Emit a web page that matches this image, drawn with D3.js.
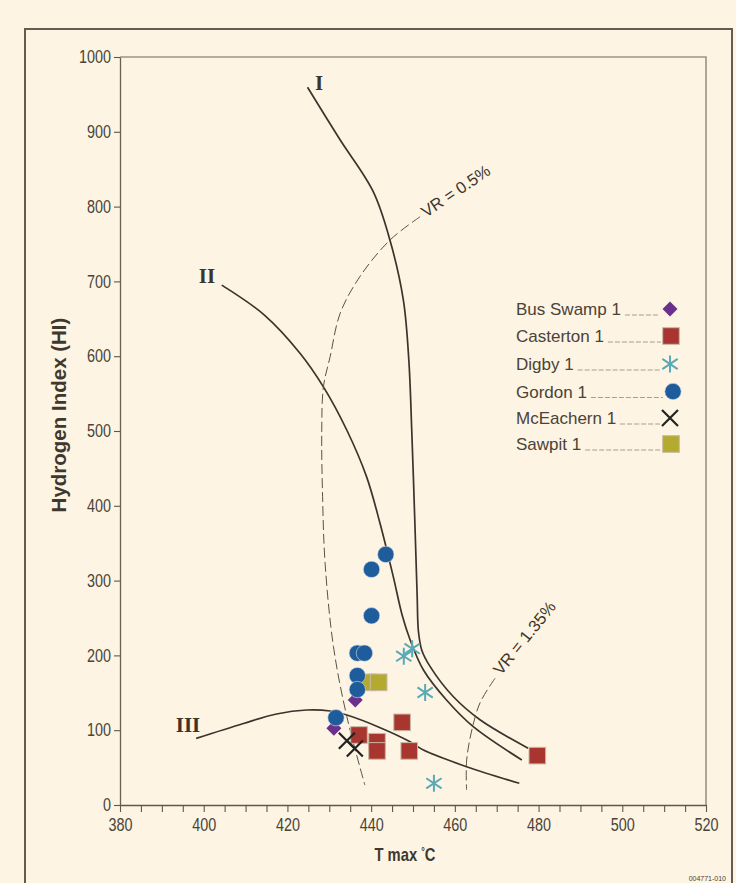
<!DOCTYPE html>
<html>
<head>
<meta charset="utf-8">
<script src="https://cdn.jsdelivr.net/npm/d3@7"></script>
<style>
  html, body { margin: 0; padding: 0; background: #fdf4e3; }
  svg { display: block; }
</style>
</head>
<body>
<svg id="chart" width="736" height="883"></svg>
<script>
// ---------- data ----------
const xTicks = [380, 400, 420, 440, 460, 480, 500, 520];
const yTicks = [0, 100, 200, 300, 400, 500, 600, 700, 800, 900, 1000];

const seriesNames = ["Bus Swamp 1", "Casterton 1", "Digby 1", "Gordon 1", "McEachern 1", "Sawpit 1"];

const busSwamp  = [[436.2, 140.4], [431.1, 102.5]];
const casterton = [[447.4, 110.5], [437.1, 93.6], [441.4, 84.6], [441.4, 72.3], [449.1, 72.3], [479.7, 66.0]];
const digby     = [[447.8, 199.0], [449.8, 209.0], [452.9, 150.4], [455.0, 29.0]];
const gordon    = [[443.5, 335.0], [440.1, 315.0], [440.1, 253.0], [436.7, 203.0], [438.4, 203.0], [436.7, 173.0], [436.7, 154.4], [431.6, 116.7]];
const mcEachern = [[434.2, 86.0], [436.1, 75.6]];
const sawpit    = [[439.3, 164.0], [441.8, 164.0]];

// kerogen type curves
const typeI = [[424.8, 959.5], [432.5, 890], [440.5, 820], [444.5, 755], [447.7, 675], [449.0, 595], [449.7, 501], [450.5, 368], [451.0, 278], [451.3, 232], [452.1, 207], [454.1, 185], [459.6, 145], [466.0, 114], [477.5, 76]];
const typeII = [[404.3, 695], [414.5, 655], [423.0, 604], [428.6, 559], [434.2, 501], [438.9, 439], [442.1, 377], [445.3, 305], [447.4, 254], [449.3, 221], [452.5, 180.5], [458.0, 140.4], [464.4, 104.7], [476.0, 60.2]];
const typeIII = [[398.2, 89], [409.5, 109], [417.4, 121.7], [424.6, 127], [430.2, 125.7], [434.2, 120.3], [441.6, 104.7], [449.3, 84.6], [452.5, 73.5], [462.8, 51.2], [475.4, 29]];

// vitrinite reflectance iso-lines
const vr05 = [[451.7, 786.5], [444.5, 755.3], [437.3, 706.3], [432.6, 657.4], [430.2, 599.3], [428.6, 559.2], [428.2, 501.3], [428.4, 412.2], [429.0, 323.1], [431.0, 211.6], [434.2, 118], [438.5, 26.7]];
const vr135 = [[469.6, 169.4], [466.0, 136.4], [463.9, 96.3], [462.8, 58.8], [462.8, 20.1]];

// ---------- drawing ----------
const svg = d3.select("#chart");
const W = 736, H = 883;
const x = d3.scaleLinear().domain([380, 520]).range([120, 706]);
const y = d3.scaleLinear().domain([0, 1000]).range([805, 57]);

const textCol = "#4a4338";
const sans = "'Liberation Sans', Arial, Helvetica, sans-serif";
const squeeze = 0.8;

svg.append("rect").attr("width", W).attr("height", H).attr("fill", "#fdf4e3");

// outer frame
svg.append("path")
  .attr("d", `M25,${H + 5} L25,29 L732,29 L732,${H + 5}`)
  .attr("fill", "none").attr("stroke", "#655c51").attr("stroke-width", 2);

// plot frame (top and right)
svg.append("path")
  .attr("d", `M${x(380)},${y(1000)} L${x(520)},${y(1000)} L${x(520)},${y(0)}`)
  .attr("fill", "none").attr("stroke", "#9e937f").attr("stroke-width", 1.6);

// axes
const xAxis = d3.axisBottom(x)
  .tickValues(d3.range(380, 521, 5))
  .tickSize(7).tickSizeOuter(0)
  .tickFormat(d => xTicks.includes(d) ? d3.format("d")(d) : "");
const gx = svg.append("g").attr("transform", `translate(0,${y(0)})`).call(xAxis);
gx.select(".domain").attr("stroke", "#5f574c").attr("stroke-width", 1.3);
gx.selectAll(".tick line").attr("stroke", "#5f574c").attr("stroke-width", 1.1);
gx.selectAll(".tick text").attr("font-family", sans).attr("font-size", 18)
  .attr("fill", textCol).attr("y", 13).attr("transform", `scale(${squeeze},1)`);

const yAxis = d3.axisLeft(y).tickValues(yTicks).tickSize(6).tickSizeOuter(0).tickFormat(d3.format("d"));
const gy = svg.append("g").attr("transform", `translate(${x(380)},0)`).call(yAxis);
gy.select(".domain").attr("stroke", "#6a6155").attr("stroke-width", 1.3);
gy.selectAll(".tick line").attr("stroke", "#5f574c").attr("stroke-width", 1.1);
gy.selectAll(".tick text").attr("font-family", sans).attr("font-size", 18)
  .attr("fill", textCol).attr("x", -9 / squeeze).attr("transform", `scale(${squeeze},1)`);

// axis titles
const xt = svg.append("text").attr("transform", `translate(405,861) scale(0.82,1)`)
  .attr("text-anchor", "middle").attr("font-family", sans).attr("font-weight", "bold")
  .attr("font-size", 18).attr("fill", "#3e382f");
xt.append("tspan").text("T max ");
xt.append("tspan").text("°").attr("font-size", 11).attr("dy", -6);
xt.append("tspan").text("C").attr("dy", 6);

svg.append("text")
  .attr("transform", `translate(66,415) rotate(-90)`)
  .attr("text-anchor", "middle").attr("font-family", sans).attr("font-weight", "bold")
  .attr("font-size", 20.5).attr("fill", "#3e382f")
  .text("Hydrogen Index (HI)");

// curves
const lineGen = d3.line().x(d => x(d[0])).y(d => y(d[1])).curve(d3.curveCatmullRom.alpha(0.5));
const curveCol = "#3b342c";
[typeI, typeII, typeIII].forEach(c => {
  svg.append("path").datum(c).attr("d", lineGen)
    .attr("fill", "none").attr("stroke", curveCol).attr("stroke-width", 1.7);
});
[vr05, vr135].forEach(c => {
  svg.append("path").datum(c).attr("d", lineGen)
    .attr("fill", "none").attr("stroke", "#5a5247").attr("stroke-width", 1)
    .attr("stroke-dasharray", "10,4");
});

// curve labels
const serif = "'Liberation Serif', 'Times New Roman', serif";
[["I", 319, 90], ["II", 207, 283], ["III", 188, 732]].forEach(l => {
  svg.append("text").attr("x", l[1]).attr("y", l[2]).attr("text-anchor", "middle")
    .attr("font-family", serif).attr("font-weight", "bold").attr("font-size", 21)
    .attr("fill", "#3b342c").text(l[0]);
});
svg.append("text").attr("transform", `translate(426,218) rotate(-34)`)
  .attr("font-family", sans).attr("font-size", 16.5).attr("fill", "#3b342c").text("VR = 0.5%");
svg.append("text").attr("transform", `translate(501,676) rotate(-51)`)
  .attr("font-family", sans).attr("font-size", 16.5).attr("fill", "#3b342c").text("VR = 1.35%");

// ---------- markers ----------
const colors = {
  bus: "#6b2f8c", cast: "#a8352f", digby: "#5aaab6", gordon: "#1f5c9c", mce: "#222222", saw: "#b3aa2f"
};
function diamond(g, cx, cy) {
  const s = 7.5;
  g.append("path").attr("d", `M${cx},${cy - s} L${cx + s},${cy} L${cx},${cy + s} L${cx - s},${cy} Z`)
    .attr("fill", colors.bus);
}
function square(g, cx, cy, col) {
  const s = 8.3;
  g.append("rect").attr("x", cx - s).attr("y", cy - s).attr("width", 2 * s).attr("height", 2 * s)
    .attr("fill", col).attr("stroke", "#c8b9a3").attr("stroke-width", 1);
}
function star(g, cx, cy) {
  const s = 8.5;
  g.append("path")
    .attr("d", `M${cx},${cy - s} L${cx},${cy + s} M${cx - s * 0.9},${cy - s * 0.6} L${cx + s * 0.9},${cy + s * 0.6} M${cx - s * 0.9},${cy + s * 0.6} L${cx + s * 0.9},${cy - s * 0.6}`)
    .attr("stroke", colors.digby).attr("stroke-width", 2).attr("fill", "none");
}
function circle(g, cx, cy) {
  g.append("circle").attr("cx", cx).attr("cy", cy).attr("r", 8.2)
    .attr("fill", colors.gordon).attr("stroke", "#d7dde2").attr("stroke-width", 0.6);
}
function cross(g, cx, cy) {
  const s = 8;
  g.append("path").attr("d", `M${cx - s},${cy - s} L${cx + s},${cy + s} M${cx - s},${cy + s} L${cx + s},${cy - s}`)
    .attr("stroke", colors.mce).attr("stroke-width", 2.2).attr("fill", "none");
}
const drawers = [
  (g, a, b) => diamond(g, a, b),
  (g, a, b) => square(g, a, b, colors.cast),
  (g, a, b) => star(g, a, b),
  (g, a, b) => circle(g, a, b),
  (g, a, b) => cross(g, a, b),
  (g, a, b) => square(g, a, b, colors.saw)
];
const seriesData = [busSwamp, casterton, digby, gordon, mcEachern, sawpit];

// draw order: bus swamp, casterton, digby, sawpit, gordon, mceachern
const pts = svg.append("g");
[0, 1, 2, 5, 3, 4].forEach(i => {
  seriesData[i].forEach(d => drawers[i](pts, x(d[0]), y(d[1])));
});

// legend
const leg = svg.append("g");
const rowY = [309, 336, 364, 391.5, 418, 444];
const markX = [670, 671, 670, 673, 670, 671];
seriesNames.forEach((name, i) => {
  const t = leg.append("text").attr("x", 516).attr("y", rowY[i] + 6)
    .attr("font-family", sans).attr("font-size", 17).attr("fill", textCol).text(name);
  const tw = t.node().getComputedTextLength();
  leg.append("line").attr("x1", 516 + tw + 4).attr("x2", markX[i] - 10)
    .attr("y1", rowY[i] + 6).attr("y2", rowY[i] + 6)
    .attr("stroke", "#a89f90").attr("stroke-width", 1).attr("stroke-dasharray", "5,2");
  drawers[i](leg, markX[i], rowY[i]);
});

// figure number (at bottom edge)
svg.append("text").attr("x", 726).attr("y", 881).attr("text-anchor", "end")
  .attr("font-family", sans).attr("font-size", 7).attr("fill", "#4a4338").text("004771-010");
</script>
</body>
</html>
